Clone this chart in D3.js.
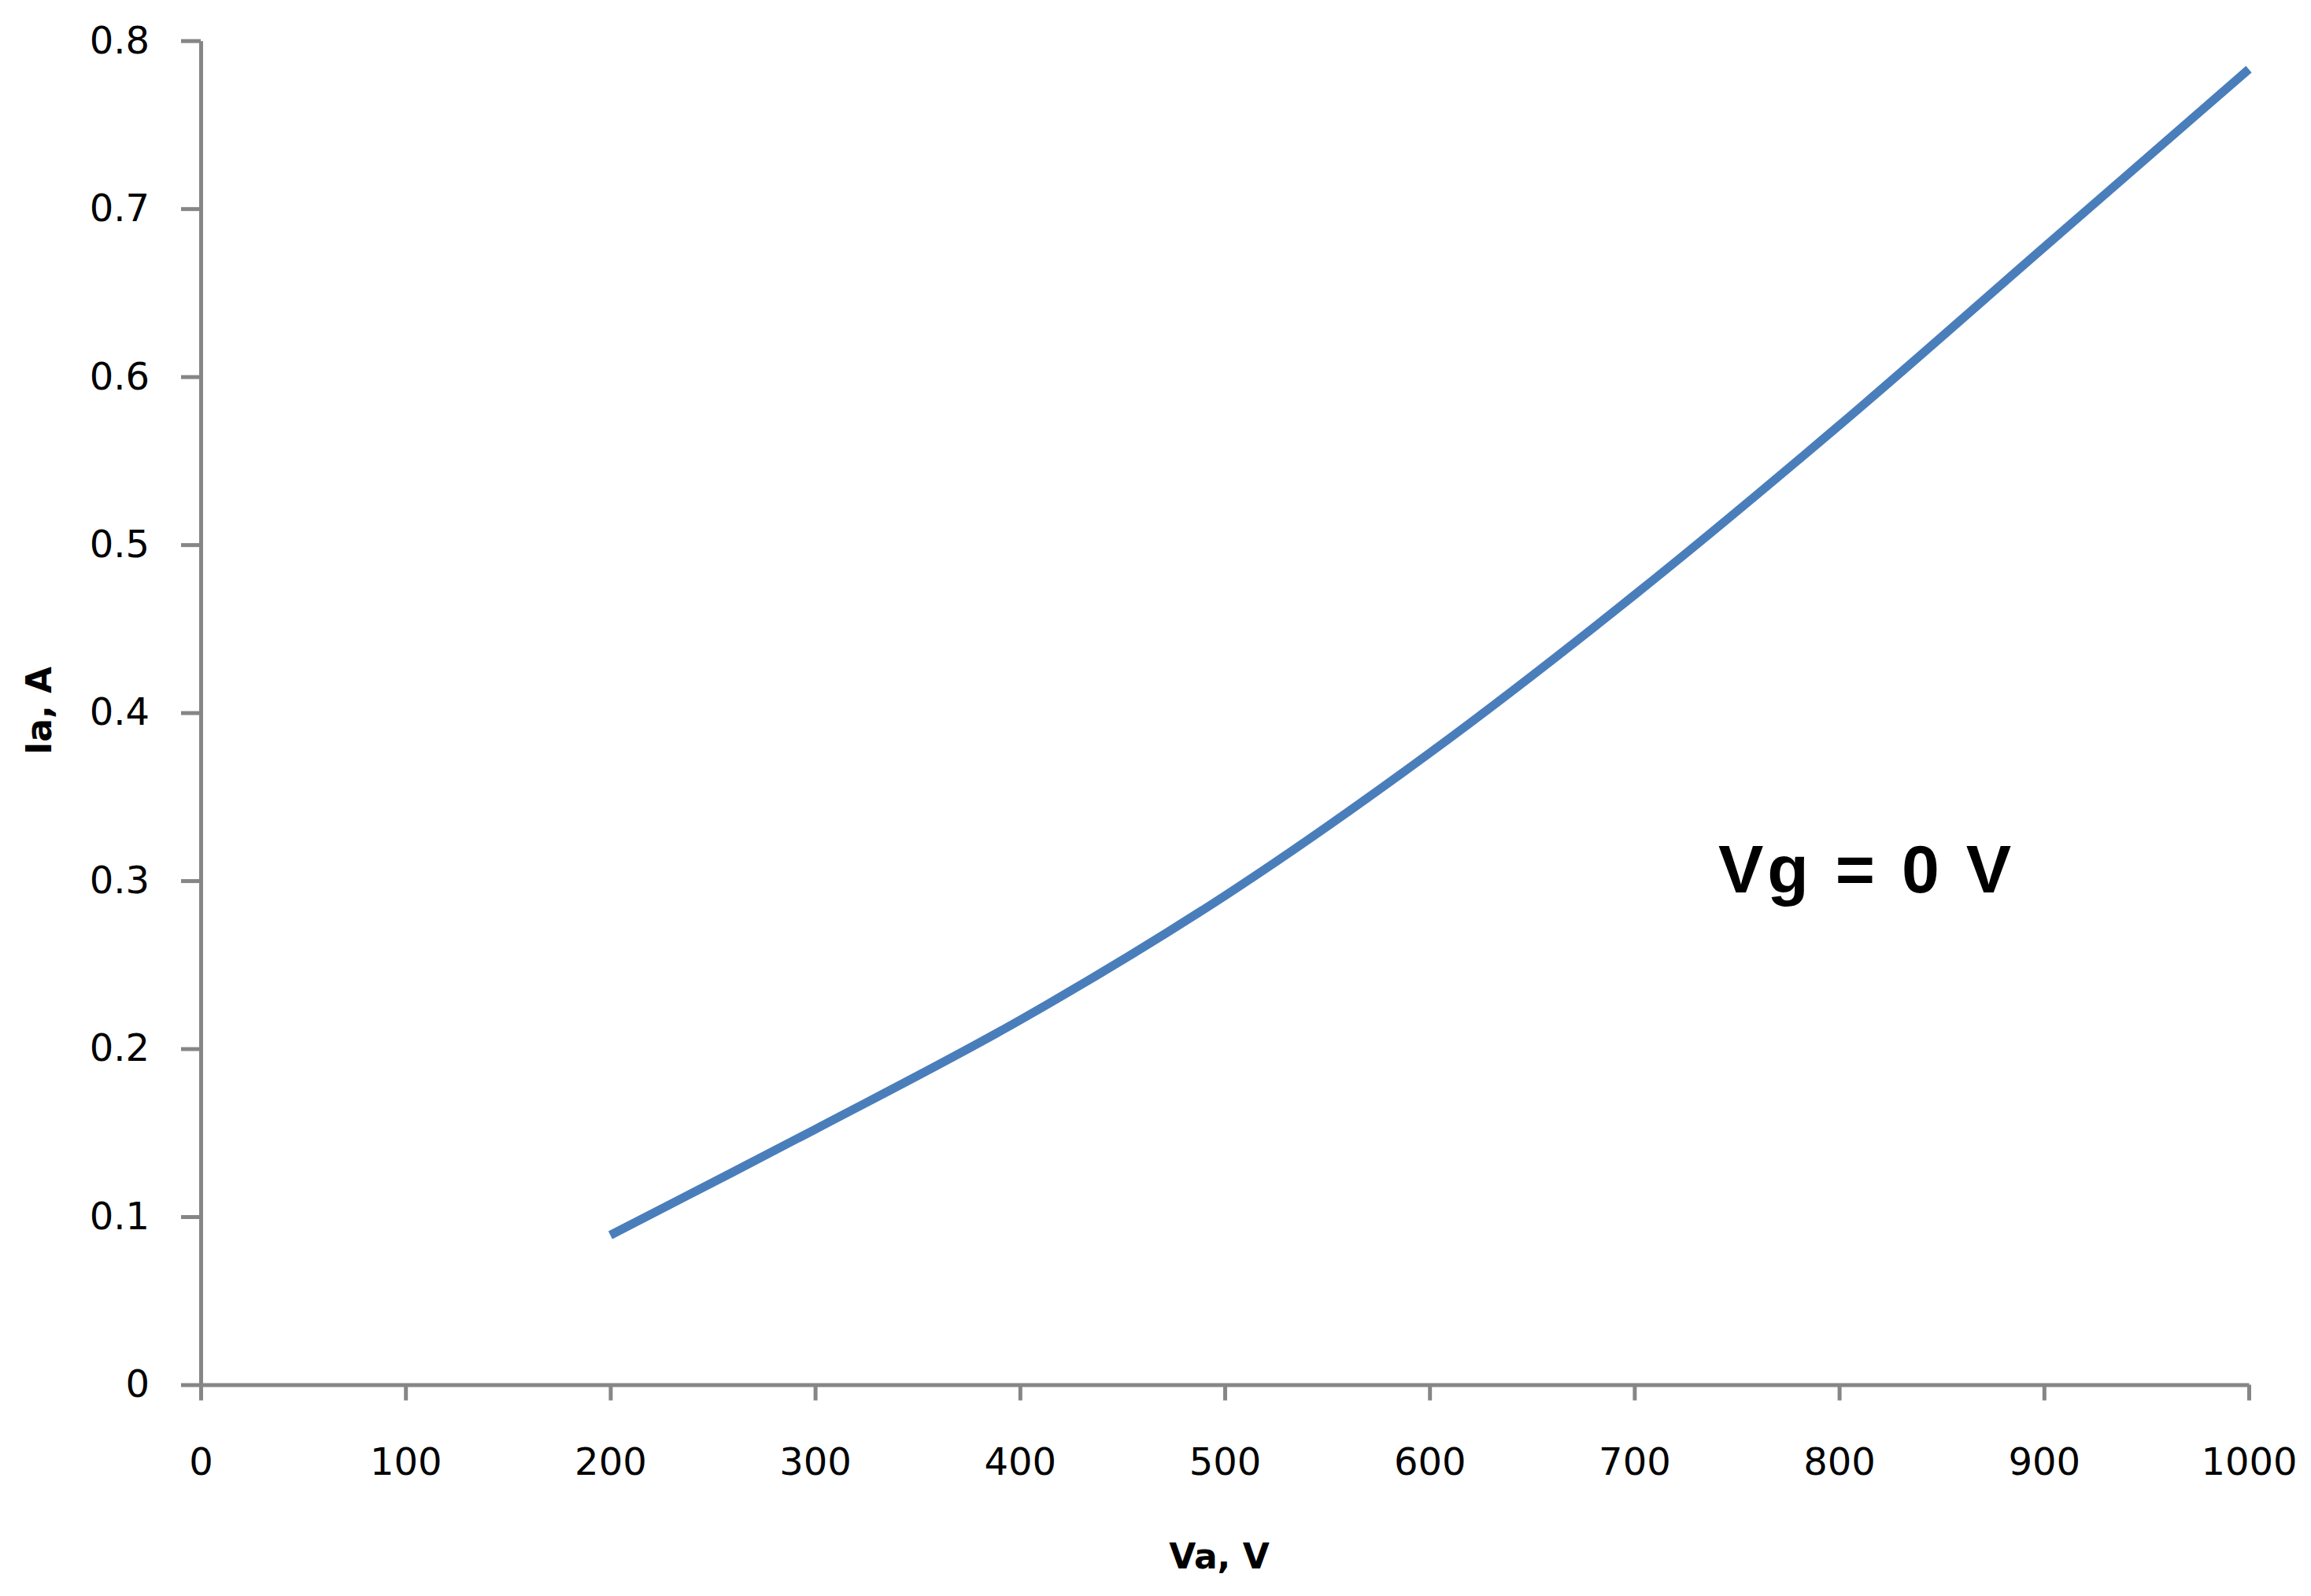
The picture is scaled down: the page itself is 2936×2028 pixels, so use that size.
<!DOCTYPE html>
<html>
<head>
<meta charset="utf-8">
<script src="https://cdn.jsdelivr.net/npm/d3@7"></script>
<style>
  body { margin: 0; background: #fff; }
  svg { display: block; }
</style>
</head>
<body>
<div id="chart"></div>
<script>
// anode voltage (V) and anode current (A)
const va = [200, 300, 400, 500, 600, 700, 800, 900, 1000];
const ia = [0.089, 0.152, 0.217, 0.291, 0.376, 0.470, 0.571, 0.677, 0.783];

const xTicks = [0, 100, 200, 300, 400, 500, 600, 700, 800, 900, 1000];
const yTicks = [0, 0.1, 0.2, 0.3, 0.4, 0.5, 0.6, 0.7, 0.8];

const xTitle = "Va, V";
const yTitle = "Ia, A";
const note = "Vg = 0 V";

const w = 2936;
const h = 2028;

const x = d3.scaleLinear().domain([0, 1000]).range([255, 2857]);
const y = d3.scaleLinear().domain([0, 0.8]).range([1759.5, 51.7]);

const svg = d3.select("#chart")
    .append("svg")
    .attr("width", w)
    .attr("height", h);

const xAxis = d3.axisBottom(x)
    .tickValues(xTicks)
    .tickFormat(d3.format("d"))
    .tickSizeInner(20)
    .tickSizeOuter(0)
    .tickPadding(60);

const yAxis = d3.axisLeft(y)
    .tickValues(yTicks)
    .tickFormat(d => d === 0 ? "0" : d3.format(".1f")(d))
    .tickSizeInner(25)
    .tickSizeOuter(0)
    .tickPadding(40);

const gx = svg.append("g")
    .attr("transform", `translate(0,${y(0)})`)
    .call(xAxis);

const gy = svg.append("g")
    .attr("transform", `translate(${x(0)},0)`)
    .call(yAxis);

[gx, gy].forEach(g => {
    g.selectAll("path, line")
        .attr("stroke", "#868686")
        .attr("stroke-width", 5);
    g.selectAll("text")
        .attr("fill", "#000")
        .style("font-family", "'DejaVu Sans', Verdana, sans-serif")
        .style("font-size", "48px");
});

// curve
const line = d3.line()
    .x((d, i) => x(va[i]))
    .y(d => y(d))
    .curve(d3.curveCatmullRom);

svg.append("path")
    .datum(ia)
    .attr("d", line)
    .attr("fill", "none")
    .attr("stroke", "#4a7ebb")
    .attr("stroke-width", 11);

// titles
svg.append("text")
    .attr("x", 1549)
    .attr("y", 1993)
    .attr("text-anchor", "middle")
    .style("font-family", "'DejaVu Sans', Verdana, sans-serif")
    .style("font-weight", "bold")
    .style("font-size", "44px")
    .text(xTitle);

svg.append("text")
    .attr("transform", "translate(65,903) rotate(-90)")
    .attr("text-anchor", "middle")
    .style("font-family", "'DejaVu Sans', Verdana, sans-serif")
    .style("font-weight", "bold")
    .style("font-size", "44px")
    .text(yTitle);

svg.append("text")
    .attr("x", 2183)
    .attr("y", 1134)
    .style("font-family", "'Liberation Sans', Arial, sans-serif")
    .style("font-weight", "bold")
    .style("font-size", "86px")
    .style("letter-spacing", "5px")
    .text(note);
</script>
</body>
</html>
